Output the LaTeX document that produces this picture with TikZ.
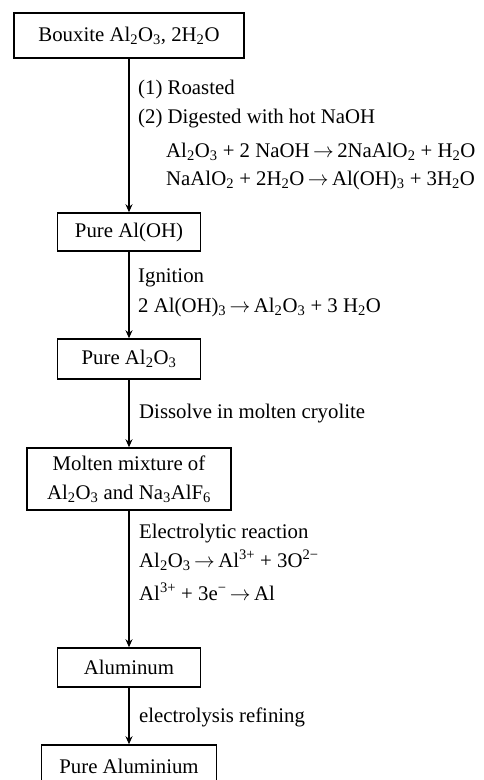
\documentclass[tikz,border=0pt]{standalone}
\usepackage{fontspec}
\setmainfont{Liberation Serif}
\usetikzlibrary{arrows.meta}
\newcommand{\sbs}[1]{\textsubscript{#1}}
\newcommand{\sps}[1]{\textsuperscript{#1}}
\newcommand{\yld}{\,$\rightarrow$\,}
\begin{document}
\begin{tikzpicture}[x=1pt,y=-1pt,
  font=\fontsize{20.8}{29}\selectfont,
  box/.style={draw, line width=1.5pt, inner sep=0pt, align=center},
  lbl/.style={anchor=west, inner sep=0pt, text height=14pt, text depth=4pt},
  arr/.style={line width=1.5pt, -{Stealth[length=8pt,width=7pt]}}]
\useasboundingbox (0,0) rectangle (483,780);
\node[box, minimum width=230pt, minimum height=45pt] (b1) at (129,35.5) {Bouxite Al\sbs{2}O\sbs{3}, 2H\sbs{2}O};
\node[box, minimum width=143pt, minimum height=38pt] (b2) at (129,232) {Pure Al(OH)};
\node[box, minimum width=143pt, minimum height=40pt] (b3) at (129,359) {Pure Al\sbs{2}O\sbs{3}};
\node[box, minimum width=204pt, minimum height=62pt] (b4) at (129,479) {Molten mixture of\\Al\sbs{2}O\sbs{3} and Na\sbs{3}AlF\sbs{6}};
\node[box, minimum width=143pt, minimum height=39pt] (b5) at (129,667.5) {Aluminum};
\node[box, minimum width=175pt, minimum height=42pt] (b6) at (129,766) {Pure Aluminium};
\draw[arr] (b1) -- (b2);
\draw[arr] (b2) -- (b3);
\draw[arr] (b3) -- (b4);
\draw[arr] (b4) -- (b5);
\draw[arr] (b5) -- (b6);
\node[lbl] (t1) at (138,89) {(1) Roasted};
\node[lbl] (t2) at (138,118) {(2) Digested with hot NaOH};
\node[lbl] (t3) at (166,152) {Al\sbs{2}O\sbs{3} + 2 NaOH\yld 2NaAlO\sbs{2} + H\sbs{2}O};
\node[lbl] (t4) at (166,180) {NaAlO\sbs{2} + 2H\sbs{2}O\yld Al(OH)\sbs{3} + 3H\sbs{2}O};
\node[lbl] (t5) at (138,277) {Ignition};
\node[lbl] (t6) at (138,307) {2 Al(OH)\sbs{3}\yld Al\sbs{2}O\sbs{3} + 3 H\sbs{2}O};
\node[lbl] (t7) at (139,413) {Dissolve in molten cryolite};
\node[lbl] (t8) at (139,533) {Electrolytic reaction};
\node[lbl] (t9) at (139,562) {Al\sbs{2}O\sbs{3}\yld Al\sps{3+} + 3O\sps{2−}};
\node[lbl] (t10) at (139,595) {Al\sps{3+} + 3e\sps{−}\yld Al};
\node[lbl] (t11) at (139,717) {electrolysis refining};
\end{tikzpicture}
\end{document}
